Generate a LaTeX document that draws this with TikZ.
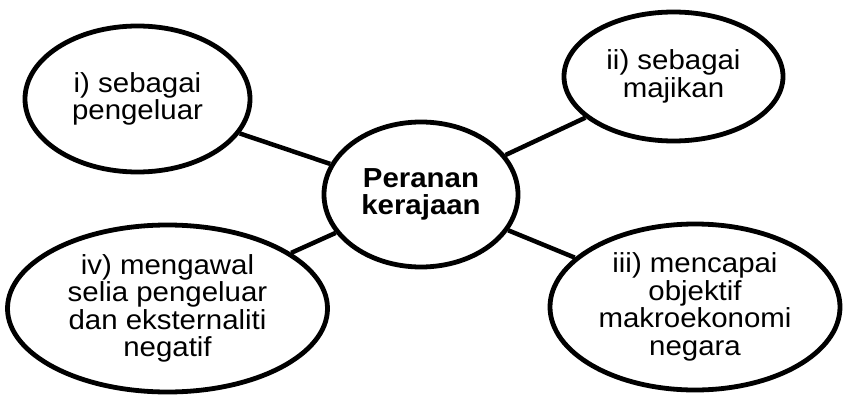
\documentclass[tikz,border=0pt]{standalone}
\usepackage{fontspec}
\setmainfont{Liberation Sans}[FakeStretch=1.07]
\usetikzlibrary{shapes.geometric}
\begin{document}
\begin{tikzpicture}[x=1pt,y=-1pt,
  bubble/.style={draw=black,line width=4.8pt,ellipse,inner sep=0pt,align=center,
    font=\fontsize{27.5}{27.5}\selectfont},
  link/.style={draw=black,line width=4.5pt}]
\useasboundingbox (0,0) rectangle (843,396);
\node[bubble,minimum width=194pt,minimum height=145pt,font=\fontsize{27.5}{27.5}\selectfont\bfseries] (c) at (421,194.5) {Peranan\\kerajaan};
\node[bubble,minimum width=225pt,minimum height=146pt] (i) at (137.5,99) {i) sebagai\\pengeluar};
\node[bubble,minimum width=219pt,minimum height=129pt] (ii) at (673.5,76.5) {ii) sebagai\\majikan};
\node[bubble,minimum width=290pt,minimum height=166pt] (iii) at (695,307) {iii) mencapai\\objektif\\makroekonomi\\negara};
\node[bubble,minimum width=320pt,minimum height=167pt] (iv) at (167.5,308.5) {iv) mengawal\\selia pengeluar\\dan eksternaliti\\negatif};
\draw[link] (i) -- (c);
\draw[link] (ii) -- (c);
\draw[link] (iii) -- (c);
\draw[link] (iv) -- (c);
\end{tikzpicture}
\end{document}
